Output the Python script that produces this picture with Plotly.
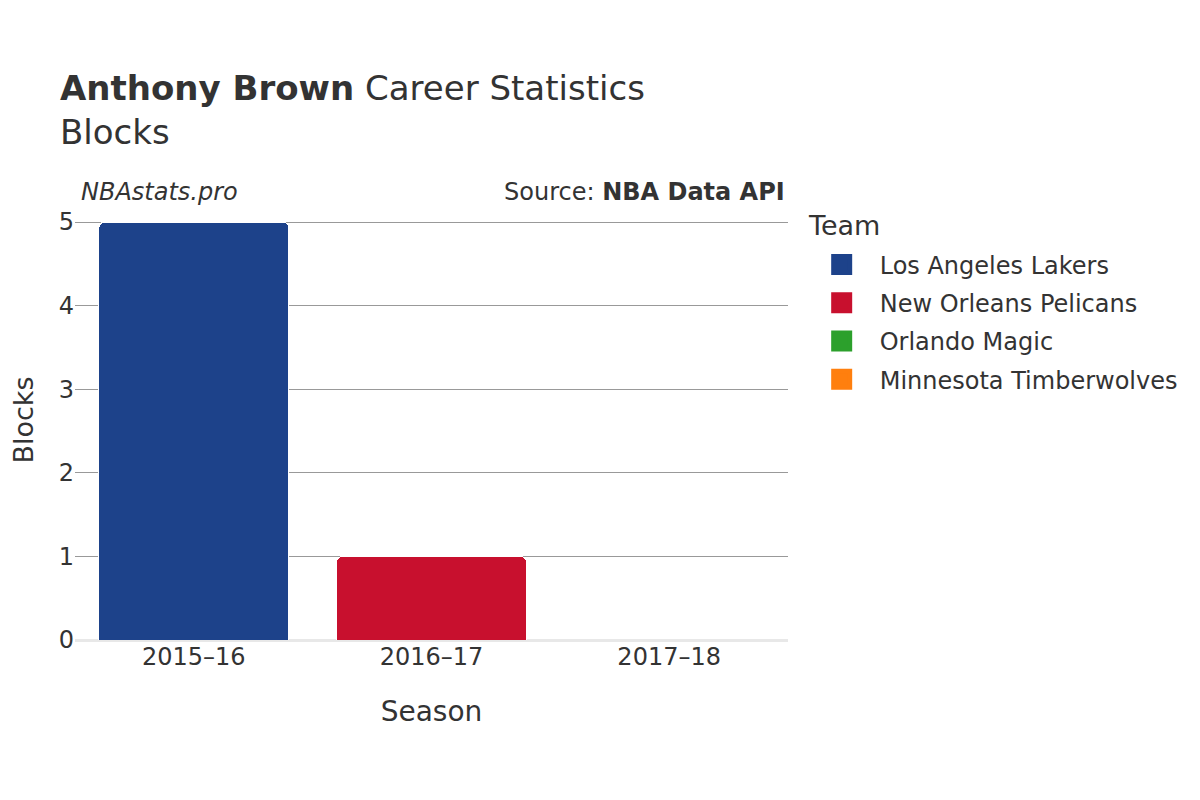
import plotly.graph_objects as go

seasons = ["2015–16", "2016–17", "2017–18"]
teams = ["Los Angeles Lakers", "New Orleans Pelicans", "Orlando Magic", "Minnesota Timberwolves"]
team_colors = ["#1d428a", "#c8102e", "#2ca02c", "#ff7f0e"]
team_seasons = [["2015–16"], ["2016–17"], ["2017–18"], ["2017–18"]]
team_blocks = [[5], [1], [0], [0]]

FONT = "DejaVu Sans"
TXT = "#333333"

fig = go.Figure()
for name, color, xs, ys in zip(teams, team_colors, team_seasons, team_blocks):
    fig.add_trace(go.Bar(
        x=xs, y=ys, name=name, legendgroup=name, showlegend=False,
        marker=dict(color=color, line=dict(color="white", width=1)),
    ))
    # legend entry (no data drawn)
    fig.add_trace(go.Scatter(
        x=[None], y=[None], mode="markers", name=name, legendgroup=name,
        marker=dict(symbol="square", size=16, color=color,
                    line=dict(color=color, width=5)),
    ))

fig.update_layout(
    width=1200, height=800,
    barmode="stack",
    bargap=0.2,
    barcornerradius=6,
    plot_bgcolor="white",
    paper_bgcolor="white",
    font=dict(family=FONT, color=TXT, size=24),
    margin=dict(l=67, r=420, t=192, b=168),
    title=dict(
        text="<b>Anthony Brown</b> Career Statistics<br>Blocks",
        x=52 / 1200, xanchor="left",
        y=1 - 92 / 800, yanchor="top", yref="container",
        font=dict(family=FONT, size=34, color=TXT),
    ),
    legend=dict(
        x=1.022, xanchor="left", y=0.9034, yanchor="top",
        font=dict(size=24),
        traceorder="grouped",
        tracegroupgap=4,
        itemwidth=66,
    ),
    xaxis=dict(
        categoryorder="array", categoryarray=seasons,
        title=dict(text="Season", font=dict(size=28), standoff=31),
        tickfont=dict(size=24),
        showgrid=False,
        showline=False,
    ),
    yaxis=dict(
        title=dict(text="Blocks", font=dict(size=27), standoff=37),
        automargin=False,
        dtick=1,
        tickfont=dict(size=24),
        showgrid=True, gridcolor="#999999", gridwidth=1,
        ticks="",
        zeroline=True, zerolinecolor="#e8e8e8", zerolinewidth=3,
    ),
    annotations=[
        dict(text="Team", x=1.025, y=0.941, xref="paper", yref="paper",
             xanchor="left", yanchor="middle", showarrow=False,
             font=dict(family=FONT, size=27, color=TXT)),
        dict(text="<i>NBAstats.pro</i>", x=0.006, y=1.018, xref="paper", yref="paper",
             xanchor="left", yanchor="middle", showarrow=False,
             font=dict(family=FONT, size=24, color=TXT)),
        dict(text="Source: <b>NBA Data API</b>", x=0.998, y=1.018, xref="paper", yref="paper",
             xanchor="right", yanchor="middle", showarrow=False,
             font=dict(family=FONT, size=24, color=TXT)),
    ],
)

fig.write_html("out.html")
